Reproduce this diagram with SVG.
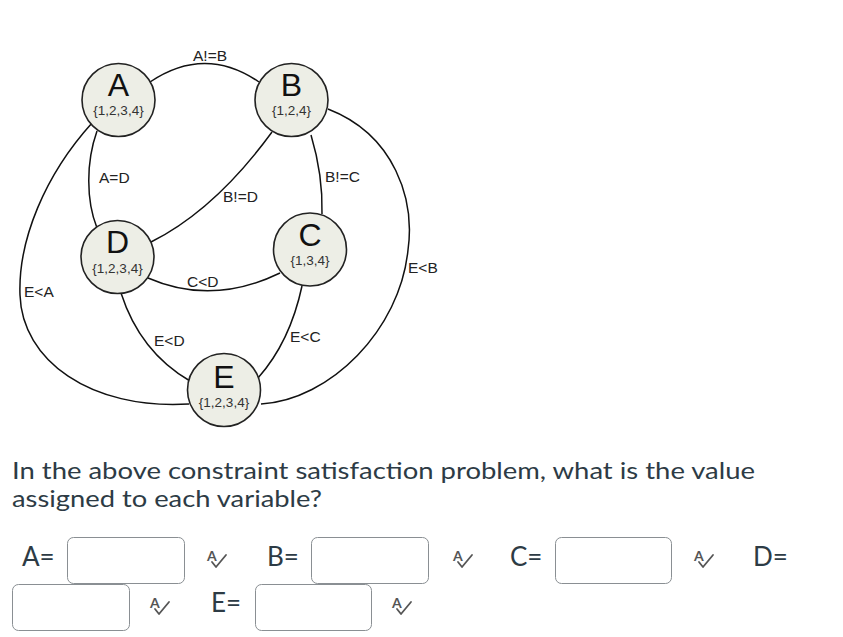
<svg xmlns="http://www.w3.org/2000/svg" width="843" height="637" viewBox="0 0 843 637">
<style>
.edge{fill:none;stroke:#111;stroke-width:1.5}
.node{fill:#edeee6;stroke:#222;stroke-width:1.6}
.nl{font-family:"Liberation Sans",Arial,sans-serif;font-size:32px;fill:#111;text-anchor:middle}
.nd{font-family:"Liberation Sans",Arial,sans-serif;font-size:13.5px;fill:#333;text-anchor:middle}
.el{font-family:"Liberation Sans",Arial,sans-serif;font-size:15.5px;fill:#222}
.q{font-family:Lato,"Liberation Sans",sans-serif;font-size:23px;fill:#2d3b45}
.lab{font-family:Lato,"Liberation Sans",sans-serif;font-size:26px;fill:#2d3b45}
.box{fill:#fff;stroke:#8a8f93;stroke-width:1}
.ic{font-family:Lato,"Liberation Sans",sans-serif;font-size:14px;font-weight:bold;fill:#555}
.ck{fill:none;stroke:#555;stroke-width:1.8;stroke-linecap:round;stroke-linejoin:round}
</style>
<rect width="843" height="637" fill="#fff"/>
<g id="connectors">
<path class="edge" d="M150,82 Q205,45 259,82"/>
<path class="edge" d="M97,131 C86,162 86,200 97,228"/>
<path class="edge" d="M92,123 C45,175 18,240 20,295 C22,360 90,410 189,404"/>
<path class="edge" d="M272,132 Q215,210 151,242"/>
<path class="edge" d="M311,135 Q323,175 322,214"/>
<path class="edge" d="M328,109 C395,135 415,200 408,250 C400,330 330,400 261,404"/>
<path class="edge" d="M148,278 Q212,306 280,273"/>
<path class="edge" d="M121,293 Q140,352 190,381"/>
<path class="edge" d="M302,286 Q290,342 258,378"/>
<text class="el" x="193" y="61">A!=B</text>
<text class="el" x="99" y="183">A=D</text>
<text class="el" x="223" y="202">B!=D</text>
<text class="el" x="325" y="182">B!=C</text>
<text class="el" x="24" y="297">E&lt;A</text>
<text class="el" x="187" y="287">C&lt;D</text>
<text class="el" x="408" y="273">E&lt;B</text>
<text class="el" x="154" y="346">E&lt;D</text>
<text class="el" x="290" y="342">E&lt;C</text>
</g>
<g id="node-A"><circle class="node" cx="118.5" cy="100" r="36.5"/><text class="nl" x="118.5" y="96">A</text><text class="nd" x="118.5" y="115">{1,2,3,4}</text></g>
<g id="node-B"><circle class="node" cx="291.5" cy="100" r="36.5"/><text class="nl" x="291.5" y="96">B</text><text class="nd" x="291.5" y="115">{1,2,4}</text></g>
<g id="node-D"><circle class="node" cx="117.5" cy="257" r="36.5"/><text class="nl" x="117.5" y="253">D</text><text class="nd" x="117.5" y="273">{1,2,3,4}</text></g>
<g id="node-C"><circle class="node" cx="310" cy="249.5" r="36.5"/><text class="nl" x="310" y="246">C</text><text class="nd" x="310" y="265">{1,3,4}</text></g>
<g id="node-E"><circle class="node" cx="224" cy="390" r="36.5"/><text class="nl" x="224" y="388">E</text><text class="nd" x="224" y="407">{1,2,3,4}</text></g>
<g id="question">
<text class="q" x="12" y="479" textLength="743" lengthAdjust="spacingAndGlyphs">In the above constraint satisfaction problem, what is the value</text>
<text class="q" x="12" y="507" textLength="310" lengthAdjust="spacingAndGlyphs">assigned to each variable?</text>
</g>
<g id="answers">
<text class="lab" x="22" y="566">A=</text>
<rect class="box" x="67.5" y="537.5" width="117" height="46" rx="6"/>
<text class="ic" x="207" y="561">A</text><polyline class="ck" points="212,562 216,567 226,555"/>
<text class="lab" x="267" y="566">B=</text>
<rect class="box" x="311.5" y="537.5" width="117" height="46" rx="6"/>
<text class="ic" x="453" y="561">A</text><polyline class="ck" points="458,562 462,567 472,555"/>
<text class="lab" x="510" y="566">C=</text>
<rect class="box" x="555.5" y="537.5" width="116" height="46" rx="6"/>
<text class="ic" x="694" y="561">A</text><polyline class="ck" points="699,562 703,567 713,555"/>
<text class="lab" x="753" y="566">D=</text>
<rect class="box" x="12.5" y="584.5" width="117" height="46" rx="6"/>
<text class="ic" x="150" y="608">A</text><polyline class="ck" points="155,609 159,614 169,602"/>
<text class="lab" x="211" y="612">E=</text>
<rect class="box" x="255.5" y="584.5" width="116" height="46" rx="6"/>
<text class="ic" x="392" y="608">A</text><polyline class="ck" points="397,609 401,614 411,602"/>
</g>
</svg>
